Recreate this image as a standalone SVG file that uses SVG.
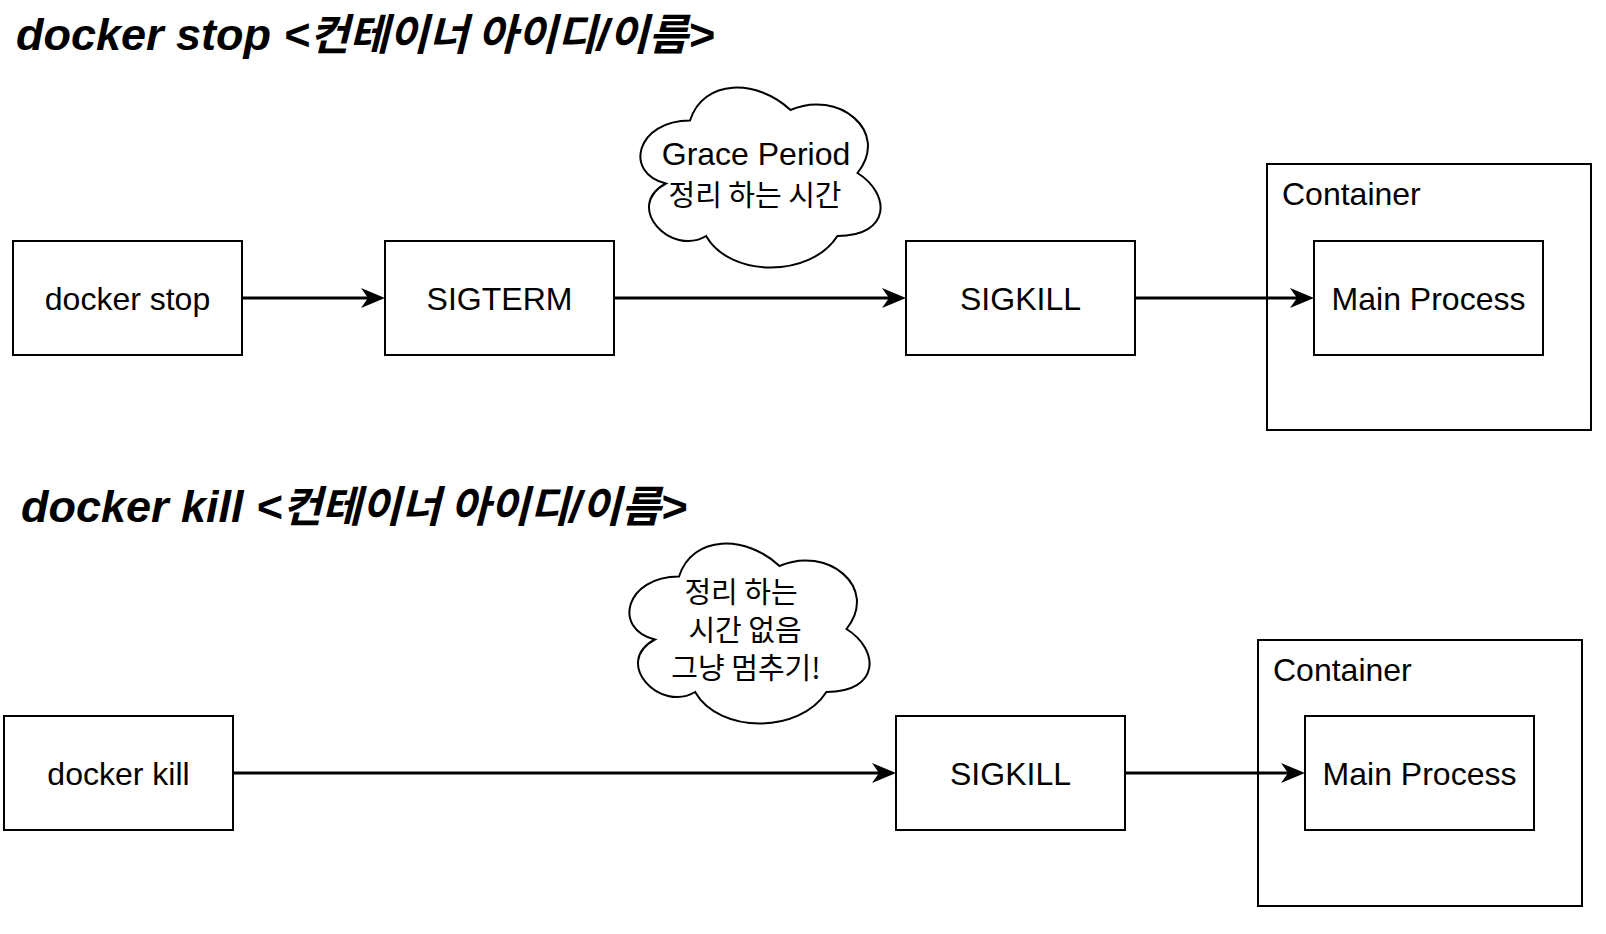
<svg xmlns="http://www.w3.org/2000/svg" xmlns:xlink="http://www.w3.org/1999/xlink" width="1606" height="934" viewBox="0 0 1606 934">
<style>
  .box{fill:#fff;stroke:#000;stroke-width:2}
  .cloud{fill:#fff;stroke:#000;stroke-width:2}
  .lbl{font-family:"Liberation Sans","Noto Sans CJK KR",sans-serif;font-size:32px;fill:#000}
  .mid{text-anchor:middle}
  .ko{font-family:"Noto Sans CJK KR","Liberation Sans",sans-serif;font-size:29px;fill:#000;text-anchor:middle}
  .title{font-family:"Liberation Sans","Noto Sans CJK KR",sans-serif;font-size:45px;font-weight:bold;font-style:italic;fill:#000}
  .tko{font-family:"Noto Sans CJK KR","Liberation Sans",sans-serif;font-size:43px}
  .edge{fill:none;stroke:#000;stroke-width:3}
</style>
<defs>
  <marker id="arr" markerUnits="userSpaceOnUse" viewBox="0 0 24 20" refX="7" refY="10" markerWidth="24" markerHeight="20" orient="auto">
    <path d="M0,0 L24,10 L0,20 L7,10 Z" fill="#000"/>
  </marker>
  <path id="cloudShape" d="M67,52.5 C13.4,52.5 0,105 42.9,115.5 C0,138.6 48.2,189 83.1,168 C107.2,210 187.6,210 214.4,168 C268,168 268,126 234.5,105 C268,63 214.4,21 167.5,42 C134,10.5 80.4,10.5 67,52.5 Z"/>
</defs>
<rect width="1606" height="934" fill="#fff"/>

<g id="title-stop">
  <text class="title" x="16" y="50">docker stop &lt;<tspan class="tko">컨테이너 아이디</tspan>/<tspan class="tko">이름</tspan>&gt;</text>
</g>
<g id="title-kill">
  <text class="title" x="21" y="522">docker kill &lt;<tspan class="tko">컨테이너 아이디</tspan>/<tspan class="tko">이름</tspan>&gt;</text>
</g>

<g id="docker-stop">
  <rect class="box" x="13" y="241" width="229" height="114"/>
  <text class="lbl mid" x="127.5" y="310">docker stop</text>
</g>
<g id="sigterm">
  <rect class="box" x="385" y="241" width="229" height="114"/>
  <text class="lbl mid" x="499.5" y="310">SIGTERM</text>
</g>
<g id="cloud-grace">
  <use xlink:href="#cloudShape" class="cloud" x="623" y="68"/>
  <text class="lbl mid" x="756" y="165">Grace Period</text>
  <text class="ko" x="755" y="206">정리 하는 시간</text>
</g>
<g id="sigkill-1">
  <rect class="box" x="906" y="241" width="229" height="114"/>
  <text class="lbl mid" x="1020.5" y="310">SIGKILL</text>
</g>
<g id="container-1">
  <rect class="box" x="1267" y="164" width="324" height="266"/>
  <text class="lbl" x="1282" y="205">Container</text>
</g>
<g id="main-process-1">
  <rect class="box" x="1314" y="241" width="229" height="114"/>
  <text class="lbl mid" x="1428.5" y="310">Main Process</text>
</g>

<g id="docker-kill">
  <rect class="box" x="4" y="716" width="229" height="114"/>
  <text class="lbl mid" x="118.5" y="785">docker kill</text>
</g>
<g id="cloud-nograce">
  <use xlink:href="#cloudShape" class="cloud" x="612" y="524"/>
  <text class="ko" x="741" y="603">정리 하는</text>
  <text class="ko" x="745" y="641">시간 없음</text>
  <text class="ko" x="746" y="679">그냥 멈추기!</text>
</g>
<g id="sigkill-2">
  <rect class="box" x="896" y="716" width="229" height="114"/>
  <text class="lbl mid" x="1010.5" y="785">SIGKILL</text>
</g>
<g id="container-2">
  <rect class="box" x="1258" y="640" width="324" height="266"/>
  <text class="lbl" x="1273" y="681">Container</text>
</g>
<g id="main-process-2">
  <rect class="box" x="1305" y="716" width="229" height="114"/>
  <text class="lbl mid" x="1419.5" y="785">Main Process</text>
</g>

<g id="connectors">
  <line class="edge" x1="242" y1="298" x2="368" y2="298" marker-end="url(#arr)"/>
  <line class="edge" x1="614" y1="298" x2="889" y2="298" marker-end="url(#arr)"/>
  <line class="edge" x1="1135" y1="298" x2="1297" y2="298" marker-end="url(#arr)"/>
  <line class="edge" x1="233" y1="773" x2="879" y2="773" marker-end="url(#arr)"/>
  <line class="edge" x1="1125" y1="773" x2="1288" y2="773" marker-end="url(#arr)"/>
</g>
</svg>
